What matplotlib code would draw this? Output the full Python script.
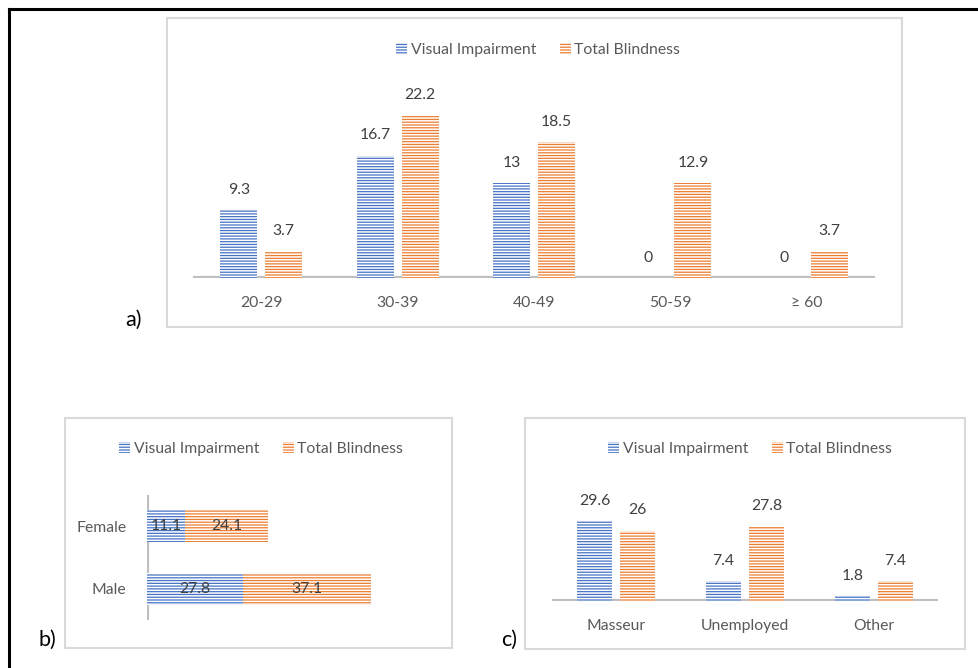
import matplotlib.pyplot as plt
from matplotlib.patches import Rectangle
from matplotlib.lines import Line2D
import numpy as np

plt.rcParams['font.family'] = ['Lato', 'DejaVu Sans']
plt.rcParams['hatch.linewidth'] = 1.1

W, H = 979, 668

age_groups = ["20-29", "30-39", "40-49", "50-59", "≥ 60"]
age_visual = [9.3, 16.7, 13, 0, 0]
age_blind = [3.7, 22.2, 18.5, 12.9, 3.7]

sex_groups = ["Male", "Female"]
sex_visual = [27.8, 11.1]
sex_blind = [37.1, 24.1]

job_groups = ["Masseur", "Unemployed", "Other"]
job_visual = [29.6, 7.4, 1.8]
job_blind = [26, 27.8, 7.4]

series_names = ["Visual Impairment", "Total Blindness"]
BLUE = "#4472C4"
ORANGE = "#ED7D31"
TXT = "#404040"
TICK = "#595959"
GRID = "#BFBFBF"
FS = 11.3
HATCH = "------"

fig = plt.figure(figsize=(W / 100, H / 100), dpi=100)


def px_axes(l, t, r, b):
    return fig.add_axes([l / W, 1 - b / H, (r - l) / W, (b - t) / H])


def px_box(l, t, r, b):
    fig.add_artist(Rectangle((l / W, 1 - b / H), (r - l) / W, (b - t) / H,
                             transform=fig.transFigure, fill=False,
                             edgecolor="#D9D9D9", lw=1.5))


def clean(ax):
    for s in ax.spines.values():
        s.set_visible(False)
    ax.tick_params(length=0, labelsize=FS, labelcolor=TICK)


def add_legend(ax, cx, cy):
    ax.legend(loc="center", bbox_to_anchor=(cx / W, 1 - cy / H),
              bbox_transform=fig.transFigure, ncol=2, frameon=False,
              fontsize=FS, handlelength=0.7, handleheight=0.7,
              handletextpad=0.2, columnspacing=1.5, labelcolor=TICK)


# outer black frame
fig.add_artist(Line2D([9 / W, 9 / W], [0, 1 - 9 / H], transform=fig.transFigure,
                      color="black", lw=2.2))
fig.add_artist(Line2D([9 / W, 1], [1 - 9 / H, 1 - 9 / H], transform=fig.transFigure,
                      color="black", lw=2.2))

# ---- a) age groups
px_box(167, 18, 902, 327)
ax1 = px_axes(193, 80, 875, 278)
x = np.arange(len(age_groups))
off = 0.165
w = 0.27
b1 = ax1.bar(x - off, age_visual, w, color=BLUE, edgecolor="white", lw=0,
             hatch=HATCH, label=series_names[0])
b2 = ax1.bar(x + off, age_blind, w, color=ORANGE, edgecolor="white", lw=0,
             hatch=HATCH, label=series_names[1])
for bars, vals in [(b1, age_visual), (b2, age_blind)]:
    for r, v in zip(bars, vals):
        ax1.annotate(f"{v:g}", (r.get_x() + r.get_width() / 2, v),
                     xytext=(0, 14.5), textcoords="offset points",
                     ha="center", va="center", fontsize=FS, color=TXT)
ax1.set_xlim(-0.5, len(age_groups) - 0.5)
ax1.set_ylim(0, 27)
ax1.set_xticks(x)
ax1.set_xticklabels(age_groups)
ax1.set_yticks([])
clean(ax1)
ax1.axhline(0, color=GRID, lw=3, zorder=0.5)
ax1.tick_params(axis="x", pad=13)
add_legend(ax1, 538, 50)
fig.text(133 / W, 1 - 320 / H, "a)", fontsize=15.5, ha="center", va="center")

# ---- b) sex
px_box(65, 418, 452, 648)
ax2 = px_axes(147, 495, 440, 620)
y = np.arange(len(sex_groups))
h = 0.51
c1 = ax2.barh(y, sex_visual, h, color=BLUE, edgecolor="white", lw=0,
              hatch=HATCH, label=series_names[0])
c2 = ax2.barh(y, sex_blind, h, left=sex_visual, color=ORANGE, edgecolor="white",
              lw=0, hatch=HATCH, label=series_names[1])
for bars, vals in [(c1, sex_visual), (c2, sex_blind)]:
    for r, v in zip(bars, vals):
        ax2.text(r.get_x() + r.get_width() / 2, r.get_y() + r.get_height() / 2,
                 f"{v:g}", ha="center", va="center", fontsize=FS, color=TXT)
ax2.set_ylim(-0.5, len(sex_groups) - 0.5)
ax2.set_xlim(0, 85)
ax2.set_yticks(y)
ax2.set_yticklabels(sex_groups)
ax2.set_xticks([])
clean(ax2)
ax2.axvline(0, color=GRID, lw=3, zorder=0.5)
ax2.tick_params(axis="y", pad=15)
add_legend(ax2, 261, 449)
fig.text(47 / W, 1 - 640 / H, "b)", fontsize=15.5, ha="center", va="center")

# ---- c) occupation
px_box(525, 418, 965, 649)
ax3 = px_axes(552, 490, 938, 601)
x3 = np.arange(len(job_groups))
off3 = 0.167
d1 = ax3.bar(x3 - off3, job_visual, w, color=BLUE, edgecolor="white", lw=0,
             hatch=HATCH, label=series_names[0])
d2 = ax3.bar(x3 + off3, job_blind, w, color=ORANGE, edgecolor="white", lw=0,
             hatch=HATCH, label=series_names[1])
for bars, vals in [(d1, job_visual), (d2, job_blind)]:
    for r, v in zip(bars, vals):
        ax3.annotate(f"{v:g}", (r.get_x() + r.get_width() / 2, v),
                     xytext=(0, 14.5), textcoords="offset points",
                     ha="center", va="center", fontsize=FS, color=TXT)
ax3.set_xlim(-0.5, len(job_groups) - 0.5)
ax3.set_ylim(0, 41)
ax3.set_xticks(x3)
ax3.set_xticklabels(job_groups)
ax3.set_yticks([])
clean(ax3)
ax3.axhline(0, color=GRID, lw=3, zorder=0.5)
ax3.tick_params(axis="x", pad=13)
add_legend(ax3, 750, 449)
fig.text(509 / W, 1 - 640 / H, "c)", fontsize=15.5, ha="center", va="center")

fig.savefig("out.png", dpi=100)
